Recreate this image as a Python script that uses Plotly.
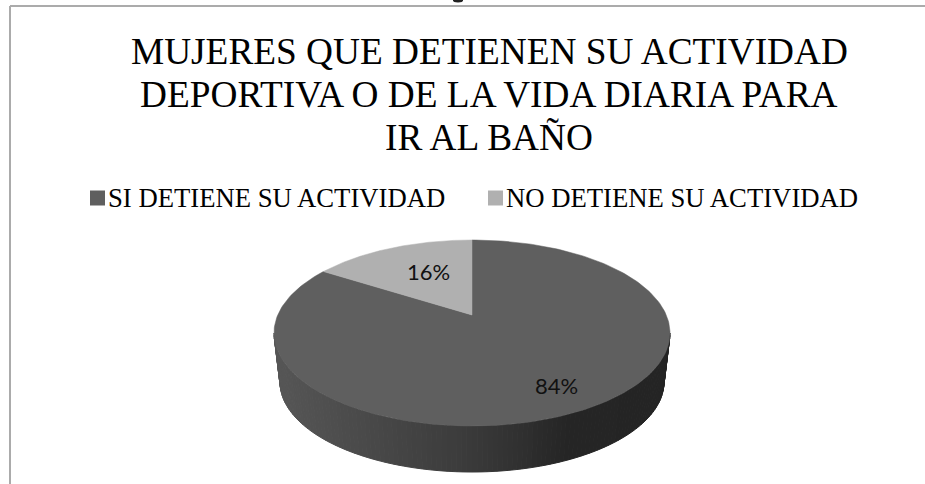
import numpy as np
import plotly.graph_objects as go

# Survey shares
categories = ["SI DETIENE SU ACTIVIDAD", "NO DETIENE SU ACTIVIDAD"]
shares = [84, 16]
slice_colors = ["#5f5f5f", "#b0b0b0"]
label_radius = [0.79, 0.54]
label_nudge = [(-1, -1), (3, -5)]
title_lines = [
    "MUJERES QUE DETIENEN SU ACTIVIDAD",
    "DEPORTIVA O DE LA VIDA DIARIA PARA",
    "IR AL BAÑO",
]
title_y = [51, 94, 137]

# Tilted disc geometry, in page pixels
CX, CY, RX, RY = 472.0, 333.0, 198.0, 93.0
BOTTOM_CY, BOTTOM_RX, BOTTOM_RY = 382.0, 192.0, 90.0
SHIFT = 0.1935  # perspective offset of the pie centre towards the back
WALL_STOPS = [(-1.0, 86), (-0.5, 72), (0.0, 58), (0.5, 37), (1.0, 36)]

# Key placement: swatch centre and label start for each category
KEY_Y = 198
KEY_SWATCH_X = [97.5, 495.5]
KEY_TEXT_X = [109, 507]


def project(u, v):
    """Map a point of the unit disc (v towards the viewer) onto the tilted top face."""
    den = 1 - SHIFT * v
    return (
        CX + RX * u * np.sqrt(1 - SHIFT**2) / den,
        CY + RY * (v - SHIFT) / den,
    )


def sector(start_share, end_share):
    angles = np.radians(np.linspace(start_share, end_share, 240) * 3.6)
    u = np.concatenate([[0.0], np.sin(angles), [0.0]])
    v = np.concatenate([[0.0], -np.cos(angles), [0.0]])
    return project(u, v)


fig = go.Figure()

# Side wall: thin vertical strips along the front half of the rim
edges = np.radians(np.linspace(0, 180, 121))
for a0, a1 in zip(edges[:-1], edges[1:]):
    tx = CX + RX * np.cos([a0, a1])
    ty = CY + RY * np.sin([a0, a1])
    bx = CX + BOTTOM_RX * np.cos([a1, a0])
    by = BOTTOM_CY + BOTTOM_RY * np.sin([a1, a0])
    shade = np.interp(np.cos((a0 + a1) / 2), [s[0] for s in WALL_STOPS], [s[1] for s in WALL_STOPS])
    g = int(round(shade))
    col = f"rgb({g},{g},{g})"
    fig.add_trace(go.Scatter(
        x=list(tx) + list(bx) + [tx[0]], y=list(ty) + list(by) + [ty[0]],
        mode="lines", fill="toself", fillcolor=col, line=dict(color=col, width=1),
        hoverinfo="skip", showlegend=False,
    ))

# Top face, one sector per category
total = sum(shares)
start = 0.0
mid_points = []
for value, color, r in zip(shares, slice_colors, label_radius):
    end = start + value / total * 100
    sx, sy = sector(start, end)
    fig.add_trace(go.Scatter(
        x=sx, y=sy, mode="lines", fill="toself", fillcolor=color,
        line=dict(color=color, width=0.5), hoverinfo="skip", showlegend=False,
    ))
    mid = np.radians((start + end) / 2 * 3.6)
    mid_points.append(project(r * np.sin(mid), -r * np.cos(mid)))
    start = end

# Key swatches
fig.add_trace(go.Scatter(
    x=KEY_SWATCH_X, y=[KEY_Y, KEY_Y], mode="markers",
    marker=dict(symbol="square", size=15, color=slice_colors, line=dict(width=0)),
    hoverinfo="skip", showlegend=False,
))

annotations = [
    dict(x=x, y=y, text=f"{v}%", showarrow=False, xref="x", yref="y",
         xshift=n[0], yshift=-n[1],
         font=dict(family="Lato", size=22, color="#111111"))
    for (x, y), v, n in zip(mid_points, shares, label_nudge)
]
for line, y in zip(title_lines, title_y):
    annotations.append(dict(
        x=489, y=y, text=line, showarrow=False, xref="x", yref="y",
        font=dict(family="Liberation Serif", size=37.3, color="#000000"),
    ))
for name, x in zip(categories, KEY_TEXT_X):
    annotations.append(dict(
        x=x, y=KEY_Y, text=name, showarrow=False, xref="x", yref="y", xanchor="left",
        font=dict(family="Liberation Serif", size=26.7, color="#000000"),
        xshift=-3,
    ))

fig.update_layout(
    width=925, height=484, margin=dict(l=0, r=0, t=0, b=0),
    paper_bgcolor="white", plot_bgcolor="white",
    xaxis=dict(range=[0, 925], visible=False, fixedrange=True),
    yaxis=dict(range=[484, 0], visible=False, fixedrange=True),
    annotations=annotations,
    showlegend=False,
    shapes=[
        # Frame edges
        dict(type="line", xref="x", yref="y", x0=10, x1=925, y0=6, y1=6,
             line=dict(color="#ababab", width=2)),
        dict(type="line", xref="x", yref="y", x0=10, x1=10, y0=6, y1=484,
             line=dict(color="#ababab", width=2)),
        # Small dark tick at the top edge, above the frame
        dict(type="circle", xref="x", yref="y", x0=453, x1=463, y0=-2, y1=2.5,
             fillcolor="#222222", line=dict(width=0)),
    ],
)

fig.write_html("out.html")
